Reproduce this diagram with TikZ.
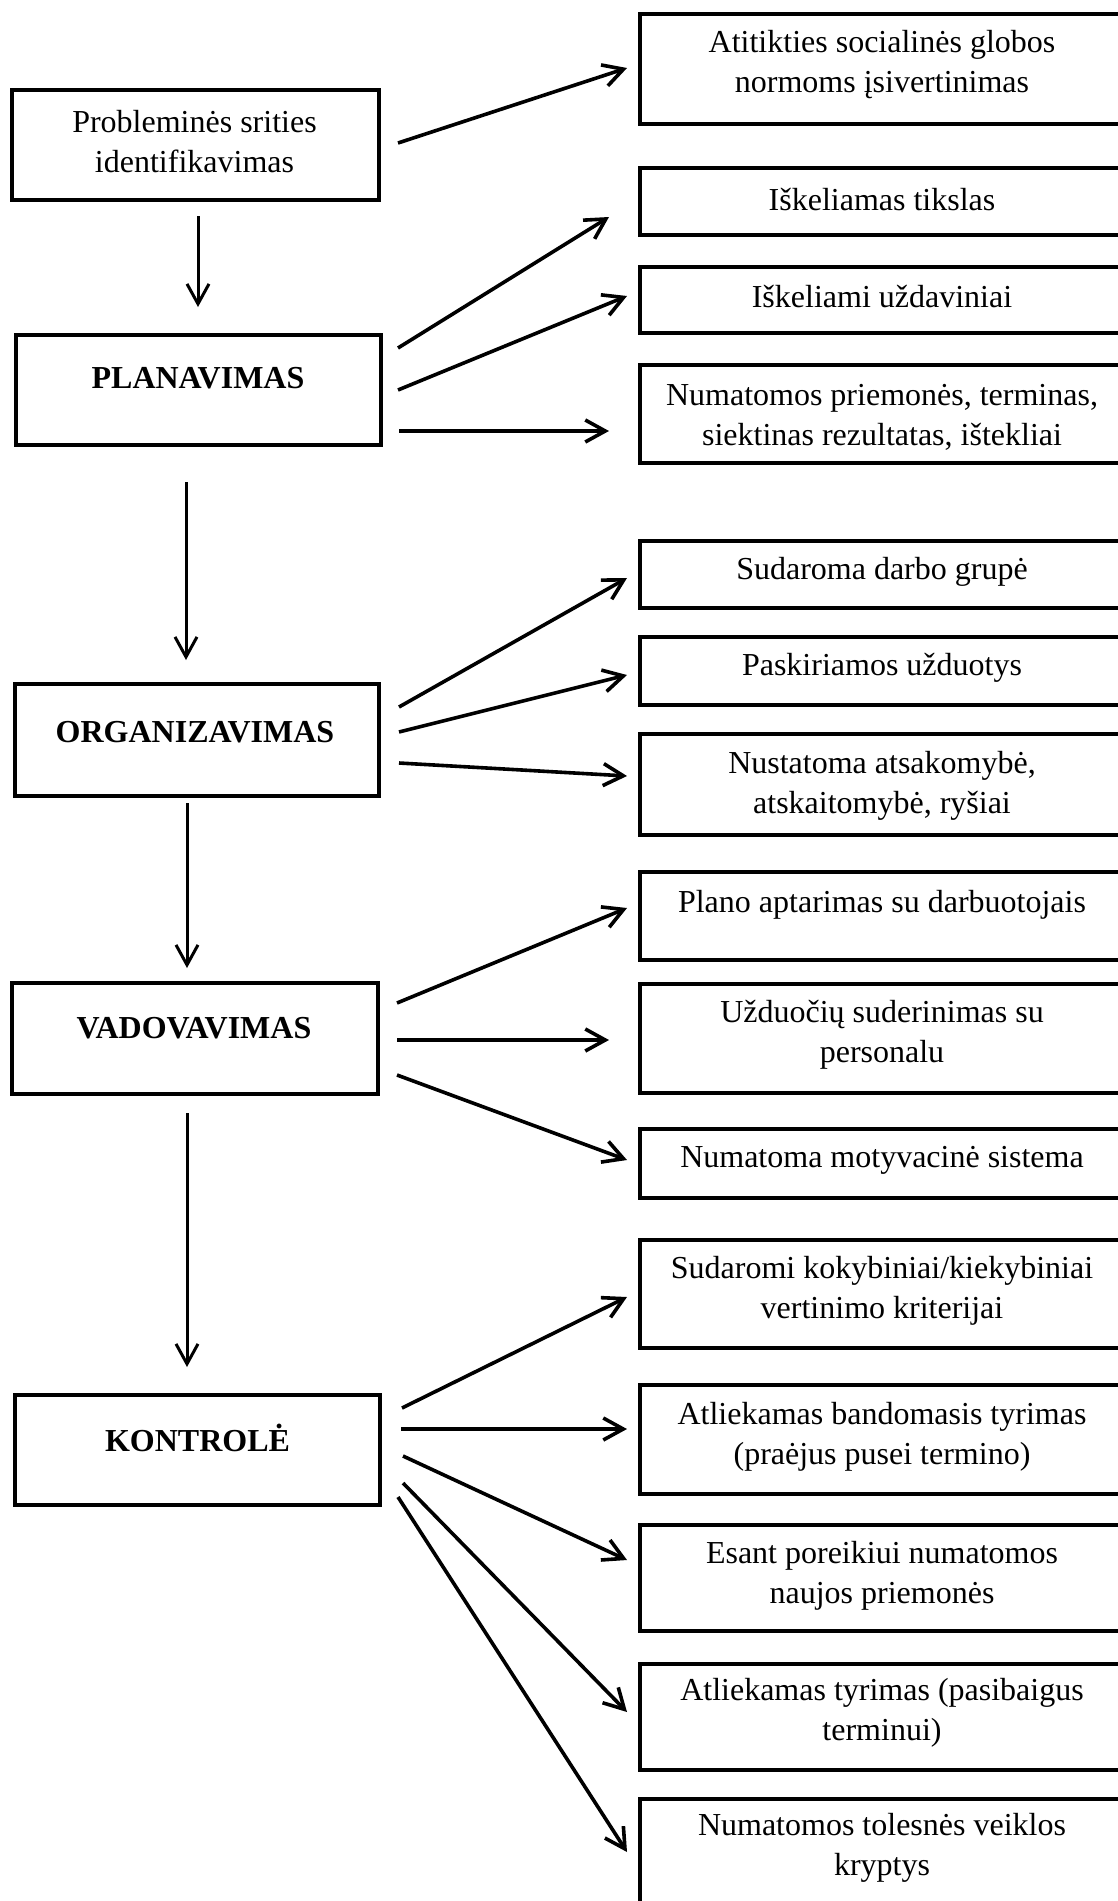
\documentclass[tikz,border=0pt]{standalone}
\usepackage{fontspec}
\setmainfont{Liberation Serif}
\usetikzlibrary{arrows.meta,calc}
\begin{document}
\begin{tikzpicture}[x=1pt,y=-1pt,
  rbox/.style={draw, line width=4.3pt, minimum width=486pt, minimum height=#1, inner sep=0pt},
  lbox/.style={draw, line width=4.3pt, minimum width=#1, inner sep=0pt},
  txt/.style={inner sep=0pt, align=center, font=\fontsize{32}{40}\selectfont},
  btxt/.style={inner sep=0pt, align=center, font=\fontsize{32}{40}\selectfont\bfseries},
  arr/.style={line width=3.6pt, -{Straight Barb[length=20pt,width=22pt]}},
  darr/.style={line width=3pt, -{Straight Barb[length=20pt,width=22pt]}}]
\useasboundingbox (0,0) rectangle (1117,1901);

% left boxes
\node[lbox=367pt, minimum height=110pt] (prob) at (195.5,145) {};
\node[lbox=365pt, minimum height=110pt] (plan) at (198.5,390) {};
\node[lbox=364pt, minimum height=112pt] (org) at (197,740) {};
\node[lbox=366pt, minimum height=111pt] (vad) at (195,1038.5) {};
\node[lbox=365pt, minimum height=110pt] (kon) at (197.5,1450) {};

\node[txt] (probT) at (194.5,142) {Probleminės srities\\identifikavimas};
\node[btxt] (planT) at (198,378) {PLANAVIMAS};
\node[btxt] (orgT) at (195,732) {ORGANIZAVIMAS};
\node[btxt] (vadT) at (194,1028) {VADOVAVIMAS};
\node[btxt] (konT) at (197.5,1438) {KONTROLĖ};

% right boxes
\node[rbox=110pt] (A) at (883,69) {};
\node[rbox=67pt] (B) at (883,201.5) {};
\node[rbox=66pt] (C) at (883,300) {};
\node[rbox=98pt] (D) at (883,414) {};
\node[rbox=67pt] (E) at (883,574.5) {};
\node[rbox=68pt] (F) at (883,671) {};
\node[rbox=101pt] (G) at (883,784.5) {};
\node[rbox=88pt] (H) at (883,916) {};
\node[rbox=109pt] (I) at (883,1038.5) {};
\node[rbox=69pt] (J) at (883,1163.5) {};
\node[rbox=108pt] (K) at (883,1294) {};
\node[rbox=109pt] (L) at (883,1439.5) {};
\node[rbox=106pt] (M) at (883,1578) {};
\node[rbox=106pt] (N) at (883,1717) {};
\node[rbox=108pt] (O) at (883,1853) {};

\node[txt] (AT) at (882,65) {Atitikties socialinės globos\\normoms įsivertinimas};
\node[txt] (BT) at (882,200) {Iškeliamas tikslas};
\node[txt] (CT) at (882,297) {Iškeliami uždaviniai};
\node[txt] (DT) at (882,417) {Numatomos priemonės, terminas,\\siektinas rezultatas, ištekliai};
\node[txt] (ET) at (882,572) {Sudaroma darbo grupė};
\node[txt] (FT) at (882,668) {Paskiriamos užduotys};
\node[txt] (GT) at (882,786) {Nustatoma atsakomybė,\\atskaitomybė, ryšiai};
\node[txt] (HT) at (882,905) {Plano aptarimas su darbuotojais};
\node[txt] (IT) at (882,1035) {Užduočių suderinimas su\\personalu};
\node[txt] (JT) at (882,1160) {Numatoma motyvacinė sistema};
\node[txt] (KT) at (882,1291) {Sudaromi kokybiniai/kiekybiniai\\vertinimo kriterijai};
\node[txt] (LT) at (882,1437) {Atliekamas bandomasis tyrimas\\(praėjus pusei termino)};
\node[txt] (MT) at (882,1576) {Esant poreikiui numatomos\\naujos priemonės};
\node[txt] (NT) at (882,1713) {Atliekamas tyrimas (pasibaigus\\terminui)};
\node[txt] (OT) at (882,1848) {Numatomos tolesnės veiklos\\kryptys};

% vertical arrows
\draw[darr] ($(prob.center)+(2.5,71)$) -- ($(plan.center)+(-0.5,-83)$);
\draw[darr] ($(plan.center)+(-12.5,92)$) -- ($(org.center)+(-11,-80)$);
\draw[darr] ($(org.center)+(-10,63)$) -- ($(vad.center)+(-8,-70.5)$);
\draw[darr] ($(vad.center)+(-8,74.5)$) -- ($(kon.center)+(-10.5,-83)$);

% side arrows
\draw[arr] ($(prob.center)+(202.5,-2)$) -- ($(A.center)+(-256,-1)$);
\draw[arr] ($(plan.center)+(199.5,-42)$) -- ($(B.center)+(-274,15.5)$);
\draw[arr] ($(plan.center)+(199.5,0)$) -- ($(C.center)+(-256,-4)$);
\draw[arr] ($(plan.center)+(200.5,41)$) -- ($(D.center)+(-274,17)$);
\draw[arr] ($(org.center)+(202,-33)$) -- ($(E.center)+(-256,3.5)$);
\draw[arr] ($(org.center)+(202,-8)$) -- ($(F.center)+(-256,4)$);
\draw[arr] ($(org.center)+(202,23)$) -- ($(G.center)+(-256,-8.5)$);
\draw[arr] ($(vad.center)+(202,-35.5)$) -- ($(H.center)+(-256,-8)$);
\draw[arr] ($(vad.center)+(202,1.5)$) -- ($(I.center)+(-274,1.5)$);
\draw[arr] ($(vad.center)+(202,36.5)$) -- ($(J.center)+(-256,-3.5)$);
\draw[arr] ($(kon.center)+(204.5,-42)$) -- ($(K.center)+(-256,3)$);
\draw[arr] ($(kon.center)+(203.5,-21)$) -- ($(L.center)+(-256,-10.5)$);
\draw[arr] ($(kon.center)+(205.5,6)$) -- ($(M.center)+(-256,-18)$);
\draw[arr] ($(kon.center)+(205.5,33)$) -- ($(N.center)+(-256,-5)$);
\draw[arr] ($(kon.center)+(200.5,47)$) -- ($(O.center)+(-256,-1)$);
\end{tikzpicture}
\end{document}
